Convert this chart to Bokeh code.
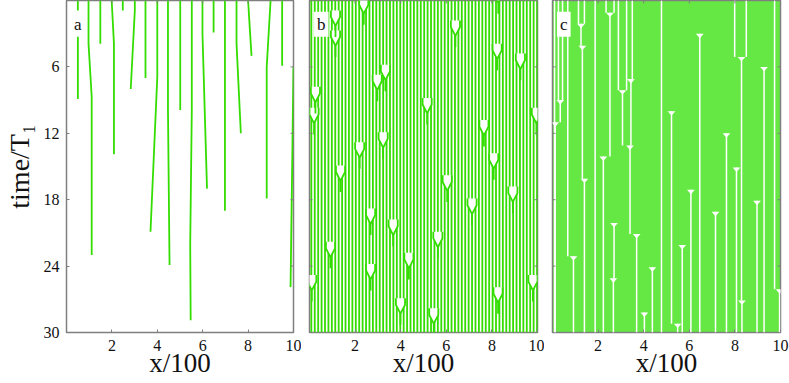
from bokeh.plotting import figure
from bokeh.models import Range1d, FixedTicker, LinearAxis, Label
from bokeh.layouts import row
from bokeh.embed import file_html
from bokeh.resources import INLINE

GREEN = "#33dd00"
CGREEN = "#66e844"
FRAME = "#7f7f7f"
FONT = "Liberation Serif"

x_ticks = [2, 4, 6, 8, 10]
t_ticks = [6, 12, 18, 24, 30]

# ---- panel a : domain-wall tracks (x/100, time/T1)
a_x = [[0.50, 0.50], [0.50, 0.50], [0.97, 0.97, 1.11, 1.11], [1.49, 1.49],
       [1.99, 2.09, 2.09], [2.48, 2.48], [3.01, 3.01, 2.83], [3.48, 3.48],
       [4.00, 4.00, 3.70], [4.47, 4.47, 4.54], [5.01, 5.01],
       [5.52, 5.52, 5.45, 5.47], [5.99, 5.99, 6.19], [6.48, 6.48],
       [6.98, 6.98, 6.98], [7.49, 7.49, 7.68], [8.00, 8.15],
       [8.99, 8.82, 8.82], [9.50, 9.50], [10.0, 9.87]]
a_t = [[0, 0.9], [3.0, 8.9], [0, 3.9, 8.7, 23.0], [0, 3.9],
       [0, 3.9, 13.9], [0, 0.9], [0, 0.9, 8.0], [0, 7.0],
       [0, 6.9, 20.9], [0, 9.9, 23.9], [0, 9.9],
       [0, 9.9, 22.0, 28.9], [0, 3.0, 17.0], [0, 2.9],
       [0, 3.0, 19.0], [0, 3.9, 12.0], [0, 5.0],
       [0, 6.0, 17.9], [0, 5.9], [6.0, 25.9]]

# ---- panel b : stripe positions and merge events
b_stripes = [0.08, 0.23, 0.38, 0.53, 0.68, 0.83, 0.98, 1.13, 1.28, 1.43,
             1.58, 1.73, 1.88, 2.03, 2.18, 2.33, 2.48, 2.63, 2.78, 2.93,
             3.08, 3.23, 3.38, 3.53, 3.68, 3.83, 3.98, 4.13, 4.28, 4.43,
             4.58, 4.73, 4.88, 5.03, 5.18, 5.33, 5.48, 5.63, 5.78, 5.93,
             6.08, 6.23, 6.38, 6.53, 6.68, 6.83, 6.98, 7.13, 7.28, 7.43,
             7.58, 7.73, 7.88, 8.03, 8.18, 8.33, 8.48, 8.63, 8.78, 8.93,
             9.08, 9.23, 9.38, 9.53, 9.68, 9.83, 9.98]
ev_x = [2.38, 1.14, 1.14, 6.40, 8.28, 8.23, 9.25, 3.33, 2.97, 0.26, 0.20,
        5.16, 9.95, 3.23, 7.65, 2.20, 8.08, 1.36, 6.04, 8.92, 7.13, 2.68,
        3.67, 5.63, 0.92, 4.36, 2.68, 0.10, 9.80, 8.27, 3.99, 5.45]
ev_t = [1.2, 2.3, 4.1, 3.2, 0.2, 5.3, 6.2, 7.2, 8.1, 9.2, 11.1,
        10.2, 11.1, 13.3, 12.2, 14.2, 15.2, 16.3, 17.2, 18.2, 19.3, 20.2,
        21.2, 22.3, 23.2, 24.2, 25.2, 26.2, 26.2, 27.3, 28.3, 29.2]

# ---- panel c : white lines running from the top, and junctions with stems
c_top_x = [0.09, 0.26, 0.44, 0.67, 1.14, 1.40, 1.87, 2.35, 2.70, 2.89,
           3.25, 3.50, 4.78, 7.99, 8.50, 9.74]
c_top_end = [30.0, 9.0, 9.0, 23.1, 2.1, 2.1, 30.0, 1.1, 1.1, 8.1,
             8.1, 7.1, 30.0, 5.1, 5.1, 26.1]
c_ev_x = [2.52, 1.25, 1.31, 6.46, 8.29, 9.28, 3.44, 3.07, 0.34, 0.12,
          5.22, 3.40, 7.63, 2.23, 8.07, 1.40, 6.07, 8.97, 7.15, 2.70,
          3.69, 5.69, 0.92, 4.38, 2.67, 9.96, 8.31, 4.03, 5.49]
c_ev_t = [1.1, 2.1, 4.1, 3.0, 5.1, 6.0, 7.1, 8.1, 9.0, 11.0,
          10.0, 13.1, 12.0, 14.1, 15.1, 16.1, 17.1, 18.1, 19.1, 20.1,
          21.1, 22.1, 23.1, 24.1, 25.1, 26.1, 27.1, 28.2, 29.2]
c_ev_end = [14.1, 4.1, 16.1, 30.0, 27.1, 30.0, 13.1, 13.1, 11.0, 30.0,
            29.2, 21.1, 30.0, 30.0, 30.0, 30.0, 30.0, 30.0, 30.0, 25.1,
            30.0, 30.0, 30.0, 30.0, 30.0, 30.0, 30.0, 30.0, 30.0]

TX = 0.13   # inward tick length along x (data units, ~3 px)
TT = 0.27   # inward tick length along time (~3 px)


def make_panel(letter, left_border, right_border, show_y_axis, bg=None):
    p = figure(width=left_border + 228 + right_border, height=383,
               x_range=Range1d(0, 10), y_range=Range1d(30, 0),
               output_backend="svg", toolbar_location=None,
               x_axis_location=None, y_axis_location=None,
               min_border_left=left_border, min_border_right=right_border,
               min_border_top=0, min_border_bottom=51)
    p.grid.visible = False
    p.outline_line_color = FRAME
    p.outline_line_width = 1.5
    p.background_fill_color = bg if bg else "white"
    p.border_fill_color = "white"

    xa = LinearAxis(ticker=FixedTicker(ticks=x_ticks), axis_label="x/100")
    axes = [xa]
    if show_y_axis:
        ya = LinearAxis(ticker=FixedTicker(ticks=t_ticks),
                        axis_label="time/T\u2081")
        ya.axis_label_text_font_size = "28px"
        ya.major_label_standoff = 7
        ya.axis_label_standoff = 6
        axes.append(ya)
        p.add_layout(ya, "left")
    for ax in axes:
        ax.axis_line_color = None
        ax.major_tick_in = 3
        ax.major_tick_out = 0
        ax.major_tick_line_color = FRAME
        ax.minor_tick_line_color = None
        ax.major_label_text_font = FONT
        ax.major_label_text_font_size = "16px"
        ax.major_label_text_color = "#111111"
        ax.axis_label_text_font = FONT
        ax.axis_label_text_font_style = "normal"
        ax.axis_label_text_color = "#111111"
    xa.axis_label_text_font_size = "27px"
    xa.major_label_standoff = 7
    xa.axis_label_standoff = -6
    p.add_layout(xa, "below")
    return p


def add_ticks_and_letter(p, letter, left_ticks):
    # inward ticks on the other sides (mirrored ticks of the frame)
    if left_ticks:
        p.segment(x0=[0] * len(t_ticks), y0=t_ticks, x1=[TX] * len(t_ticks),
                  y1=t_ticks, line_color=FRAME, line_width=1)
    p.segment(x0=[10] * len(t_ticks), y0=t_ticks,
              x1=[10 - TX] * len(t_ticks), y1=t_ticks,
              line_color=FRAME, line_width=1)
    p.segment(x0=x_ticks, y0=[0] * len(x_ticks), x1=x_ticks,
              y1=[TT] * len(x_ticks), line_color=FRAME, line_width=1)
    p.add_layout(Label(x=0.2, y=2.15, text=letter, text_font=FONT,
                       text_font_size="17px", text_color="#111111",
                       background_fill_color="white", text_baseline="middle",
                       border_line_color=None, padding=3))


# panel a
pa = make_panel("a", 65, 8, True)
pa.multi_line(a_x, a_t, line_color=GREEN, line_width=1.8)
add_ticks_and_letter(pa, "a", False)

# panel b
pb = make_panel("b", 8, 7, False)
pb.segment(x0=b_stripes, y0=[0] * len(b_stripes), x1=b_stripes,
           y1=[30] * len(b_stripes), line_color=GREEN, line_width=1.8)
w, h, up = 0.2, 0.8, 0.6
v_x = [[x - w, x - w, x, x + w, x + w] for x in ev_x]
v_y = [[t - h - up, t - h, t, t - h, t - h - up] for t in ev_t]
pb.patches(v_x, v_y, fill_color="white", line_color=None)
pb.multi_line(v_x, v_y, line_color=GREEN, line_width=1.8)
pb.segment(x0=ev_x, y0=ev_t, x1=ev_x, y1=[t + 1.0 for t in ev_t],
           line_color=GREEN, line_width=1.8)
add_ticks_and_letter(pb, "b", True)

# panel c
pc = make_panel("c", 8, 9, False, bg=CGREEN)
pc.segment(x0=c_top_x, y0=[0] * len(c_top_x), x1=c_top_x, y1=c_top_end,
           line_color="white", line_width=1.5)
pc.segment(x0=c_ev_x, y0=c_ev_t, x1=c_ev_x, y1=c_ev_end,
           line_color="white", line_width=1.5)
cw, ch = 0.17, 0.4
pc.patches([[x - cw, x + cw, x] for x in c_ev_x],
           [[t, t, t + ch] for t in c_ev_t],
           fill_color="white", line_color=None)
add_ticks_and_letter(pc, "c", True)

layout = row(pa, pb, pc)
open("out.html", "w").write(file_html(layout, INLINE))
